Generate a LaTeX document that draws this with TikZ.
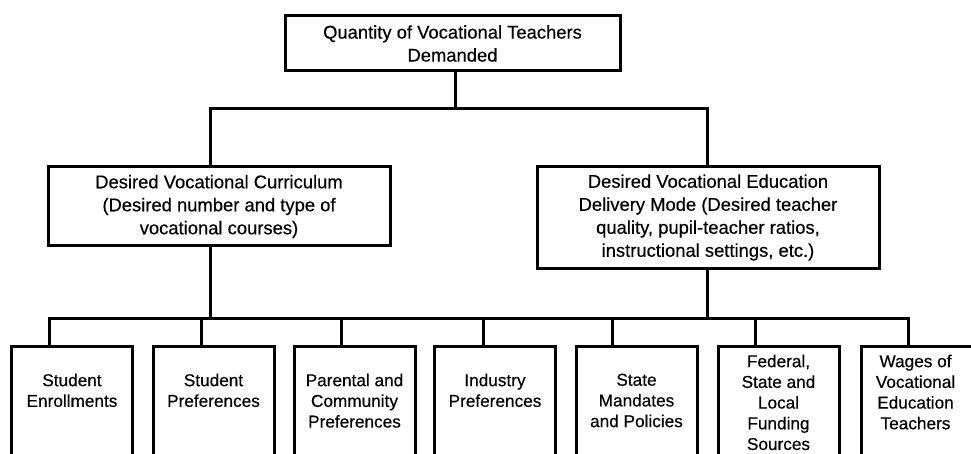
\documentclass[tikz,border=0pt]{standalone}
\usepackage{fontspec}
\setmainfont{Liberation Sans}[FakeBold=0.4]
\usepackage{tikz}
\usetikzlibrary{positioning}
\tikzstyle{box}=[draw=black,line width=3pt,inner sep=0pt,align=center,font=\fontsize{18.4}{23}\selectfont]
\tikzstyle{leaf}=[draw=black,line width=3pt,inner sep=0pt,minimum width=121pt,minimum height=130pt]
\tikzstyle{leaftext}=[inner sep=0pt,align=center,font=\fontsize{17.2}{20.7}\selectfont]
\tikzstyle{wire}=[line width=3pt,line join=miter]

\begin{document}
\begin{tikzpicture}[x=1pt,y=-1pt]
      \useasboundingbox (0,0) rectangle (971,454);
      \clip (0,0) rectangle (971,454);
      % top and middle boxes
      \node[box,minimum width=335pt,minimum height=55pt] at (452.5,43.5) (Q) {Quantity of Vocational Teachers\\Demanded};
      \node[box,minimum width=342pt,minimum height=79pt] at (219,206.5) (Curr) {Desired Vocational Curriculum\\(Desired number and type of\\vocational courses)};
      \node[box,minimum width=342pt,minimum height=101pt] at (708,217.5) (Mode) {Desired Vocational Education\\Delivery Mode (Desired teacher\\quality, pupil-teacher ratios,\\instructional settings, etc.)};
      % bottom boxes
      \node[leaf] at (72,411) (B1) {};
      \node[leaf] at (213.5,411) (B2) {};
      \node[leaf] at (354.5,411) (B3) {};
      \node[leaf] at (495,411) (B4) {};
      \node[leaf] at (636.5,411) (B5) {};
      \node[leaf] at (778.5,411) (B6) {};
      \node[leaf,minimum width=113pt] at (917.5,411) (B7) {};
      \node[leaftext,below=29pt of B1.north] (T1) {Student\\Enrollments};
      \node[leaftext,below=29pt of B2.north] (T2) {Student\\Preferences};
      \node[leaftext,below=29pt of B3.north] (T3) {Parental and\\Community\\Preferences};
      \node[leaftext,below=29pt of B4.north] (T4) {Industry\\Preferences};
      \node[leaftext,below=29pt of B5.north] (T5) {State\\Mandates\\and Policies};
      \node[leaftext,below=10pt of B6.north] (T6) {Federal,\\State and\\Local\\Funding\\Sources};
      \node[leaftext,below=10pt of B7.north,xshift=-2pt] (T7) {Wages of\\Vocational\\Education\\Teachers};
      % connectors
      \coordinate (jl) at (210,109);
      \coordinate (jr) at (707,109);
      \coordinate (d1) at (49,318);
      \coordinate (d2) at (201,318);
      \coordinate (d3) at (341,318);
      \coordinate (d4) at (483,318);
      \coordinate (d5) at (612,318);
      \coordinate (d6) at (755,318);
      \coordinate (d7) at (908,318);
      \draw[wire] (Q.south -| 455,0) -- (jl -| 455,0);
      \draw[wire] (Curr.north -| jl) -- (jl) -- (jr) -- (Mode.north -| jr);
      \draw[wire] (Curr.south -| jl) -- (jl |- d1);
      \draw[wire] (Mode.south -| jr) -- (jr |- d1);
      \draw[wire] (B1.north -| d1) -- (d1) -- (d7) -- (B7.north -| d7);
      \draw[wire] (d2) -- (d2 |- B2.north);
      \draw[wire] (d3) -- (d3 |- B3.north);
      \draw[wire] (d4) -- (d4 |- B4.north);
      \draw[wire] (d5) -- (d5 |- B5.north);
      \draw[wire] (d6) -- (d6 |- B6.north);
\end{tikzpicture}
\end{document}
